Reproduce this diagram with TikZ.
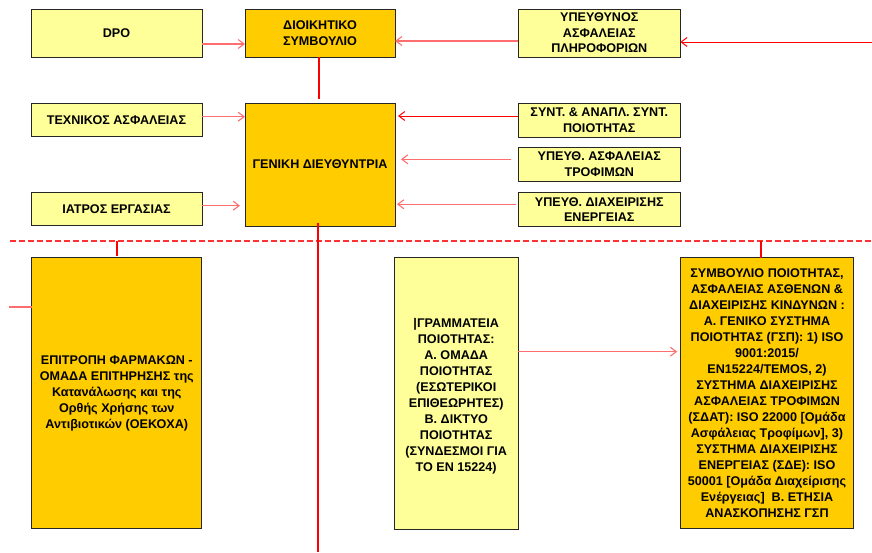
\documentclass[tikz,border=0pt]{standalone}
\usepackage{fontspec}
\setmainfont{Liberation Sans}
\usetikzlibrary{arrows.meta}
\definecolor{paleyellow}{HTML}{FFFF99}
\definecolor{gold}{HTML}{FFCC00}
\definecolor{softred}{RGB}{255,110,110}
\tikzset{
  box/.style={draw=black!85, line width=1pt, inner sep=0pt, outer sep=0pt,
    align=center, font=\bfseries\fontsize{12.6}{15.5}\selectfont},
  lightbox/.style={box, fill=paleyellow},
  goldbox/.style={box, fill=gold},
  tallbox/.style={font=\bfseries\fontsize{12.6}{16}\selectfont},
  link/.style={draw=softred, line width=1.1pt},
  redlink/.style={draw=red, line width=1pt},
  feed/.style={-{Straight Barb[length=6pt,width=9pt]}},
  trunk/.style={draw=red, line width=2pt},
  divider/.style={draw={rgb,255:red,255;green,50;blue,50}, line width=1.6pt,
    dash pattern=on 6pt off 3pt}
}
\begin{document}
\begin{tikzpicture}[x=1pt,y=-1pt]
\useasboundingbox (0,0) rectangle (872,552);

% top row
\node[lightbox, minimum width=171pt, minimum height=48pt] (dpo) at (116.5,33) {DPO};
\node[goldbox, minimum width=150pt, minimum height=48pt] (board) at (320,33) {ΔΙΟΙΚΗΤΙΚΟ\\ΣΥΜΒΟΥΛΙΟ};
\node[lightbox, minimum width=162pt, minimum height=48pt] (infosec) at (599.3,33) {ΥΠΕΥΘΥΝΟΣ\\ΑΣΦΑΛΕΙΑΣ\\ΠΛΗΡΟΦΟΡΙΩΝ};

% management level
\node[lightbox, minimum width=171pt, minimum height=33.5pt] (tech) at (116.5,120) {ΤΕΧΝΙΚΟΣ ΑΣΦΑΛΕΙΑΣ};
\node[goldbox, minimum width=150pt, minimum height=123pt] (gm) at (320,164.5) {ΓΕΝΙΚΗ ΔΙΕΥΘΥΝΤΡΙΑ};
\node[lightbox, minimum width=171pt, minimum height=33.3pt] (doctor) at (116.5,209.3) {ΙΑΤΡΟΣ ΕΡΓΑΣΙΑΣ};
\node[lightbox, minimum width=162pt, minimum height=34pt] (coord) at (599.3,120.3) {ΣΥΝΤ. \& ΑΝΑΠΛ. ΣΥΝΤ.\\ΠΟΙΟΤΗΤΑΣ};
\node[lightbox, minimum width=162pt, minimum height=33.7pt] (food) at (599.3,164.2) {ΥΠΕΥΘ. ΑΣΦΑΛΕΙΑΣ\\ΤΡΟΦΙΜΩΝ};
\node[lightbox, minimum width=162pt, minimum height=34.3pt] (energy) at (599.3,209.5) {ΥΠΕΥΘ. ΔΙΑΧΕΙΡΙΣΗΣ\\ΕΝΕΡΓΕΙΑΣ};

% committees
\node[goldbox, tallbox, minimum width=170.3pt, minimum height=271.3pt] (drugs) at (116.8,393.3)
  {ΕΠΙΤΡΟΠΗ ΦΑΡΜΑΚΩΝ -\\ΟΜΑΔΑ ΕΠΙΤΗΡΗΣΗΣ της\\Κατανάλωσης και της\\Ορθής Χρήσης των\\Αντιβιοτικών (ΟΕΚΟΧΑ)};
\node[lightbox, tallbox, minimum width=124.3pt, minimum height=272pt] (secr) at (456.2,393)
  {\mbox{}\\|ΓΡΑΜΜΑΤΕΙΑ\\ΠΟΙΟΤΗΤΑΣ:\\Α. ΟΜΑΔΑ\\ΠΟΙΟΤΗΤΑΣ\\(ΕΣΩΤΕΡΙΚΟΙ\\ΕΠΙΘΕΩΡΗΤΕΣ)\\Β. ΔΙΚΤΥΟ\\ΠΟΙΟΤΗΤΑΣ\\(ΣΥΝΔΕΣΜΟΙ ΓΙΑ\\ΤΟ ΕΝ 15224)};
\node[goldbox, tallbox, minimum width=172.6pt, minimum height=271.3pt] (council) at (767,393.3)
  {ΣΥΜΒΟΥΛΙΟ ΠΟΙΟΤΗΤΑΣ,\\ΑΣΦΑΛΕΙΑΣ ΑΣΘΕΝΩΝ \&\\ΔΙΑΧΕΙΡΙΣΗΣ ΚΙΝΔΥΝΩΝ :\\Α. ΓΕΝΙΚΟ ΣΥΣΤΗΜΑ\\ΠΟΙΟΤΗΤΑΣ (ΓΣΠ): 1) ISO\\9001:2015/\\EN15224/TEMOS, 2)\\ΣΥΣΤΗΜΑ ΔΙΑΧΕΙΡΙΣΗΣ\\ΑΣΦΑΛΕΙΑΣ ΤΡΟΦΙΜΩΝ\\(ΣΔΑΤ): ISO 22000 [Ομάδα\\Ασφάλειας Τροφίμων], 3)\\ΣΥΣΤΗΜΑ ΔΙΑΧΕΙΡΙΣΗΣ\\ΕΝΕΡΓΕΙΑΣ (ΣΔΕ): ISO\\50001 [Ομάδα Διαχείρισης\\Ενέργειας]\ \ Β. ΕΤΗΣΙΑ\\ΑΝΑΣΚΟΠΗΣΗΣ ΓΣΠ};

% free ends of connectors
\coordinate (inR) at (872,42);
\coordinate (bottom) at (318,552);
\coordinate (divL) at (10,240.7);
\coordinate (divR) at (872,240.7);
\coordinate (inL) at (9,307);

% top row connectors
\draw[link, feed] ([yshift=-11pt]dpo.east) -- ([yshift=-11pt]dpo.east -| board.west);
\draw[link, feed] ([yshift=-8pt]infosec.west) -- ([yshift=-8pt]infosec.west -| board.east);
\draw[redlink, feed] (inR) -- (inR -| infosec.east);
\draw[trunk, shorten >=4pt] ([xshift=-1pt]board.south) -- ([xshift=-1pt]gm.north);

% into the general management
\draw[link, feed] ([yshift=3.3pt]tech.east) -- ([yshift=3.3pt]tech.east -| gm.west);
\draw[link, feed, shorten >=5pt] ([yshift=3.6pt]doctor.east) -- ([yshift=3.6pt]doctor.east -| gm.west);
\draw[redlink, feed, shorten >=3pt] ([yshift=4.3pt]coord.west) -- ([yshift=4.3pt]coord.west -| gm.east);
\draw[link, feed, shorten <=7pt, shorten >=6pt] ([yshift=4.9pt]food.west) -- ([yshift=4.9pt]food.west -| gm.east);
\draw[link, feed, shorten <=2pt, shorten >=2pt] ([yshift=5.2pt]energy.west) -- ([yshift=5.2pt]energy.west -| gm.east);

% divider and trunk line
\draw[divider] (divL) -- (divR);
\draw[draw=red, line width=2.6pt] ([xshift=-2pt,yshift=3pt]gm.south) -- (bottom);
\draw[trunk, shorten <=2pt] (drugs.north) -- (drugs.north |- divL);
\draw[trunk] ([xshift=-6.3pt]council.north) -- ([xshift=-6.3pt]council.north |- divL);
\draw[link] (inL) -- (inL -| drugs.west);

% committee link
\draw[link, feed, shorten >=3.5pt] ([yshift=41.3pt]secr.east) -- ([yshift=41.3pt]secr.east -| council.west);
\end{tikzpicture}
\end{document}
